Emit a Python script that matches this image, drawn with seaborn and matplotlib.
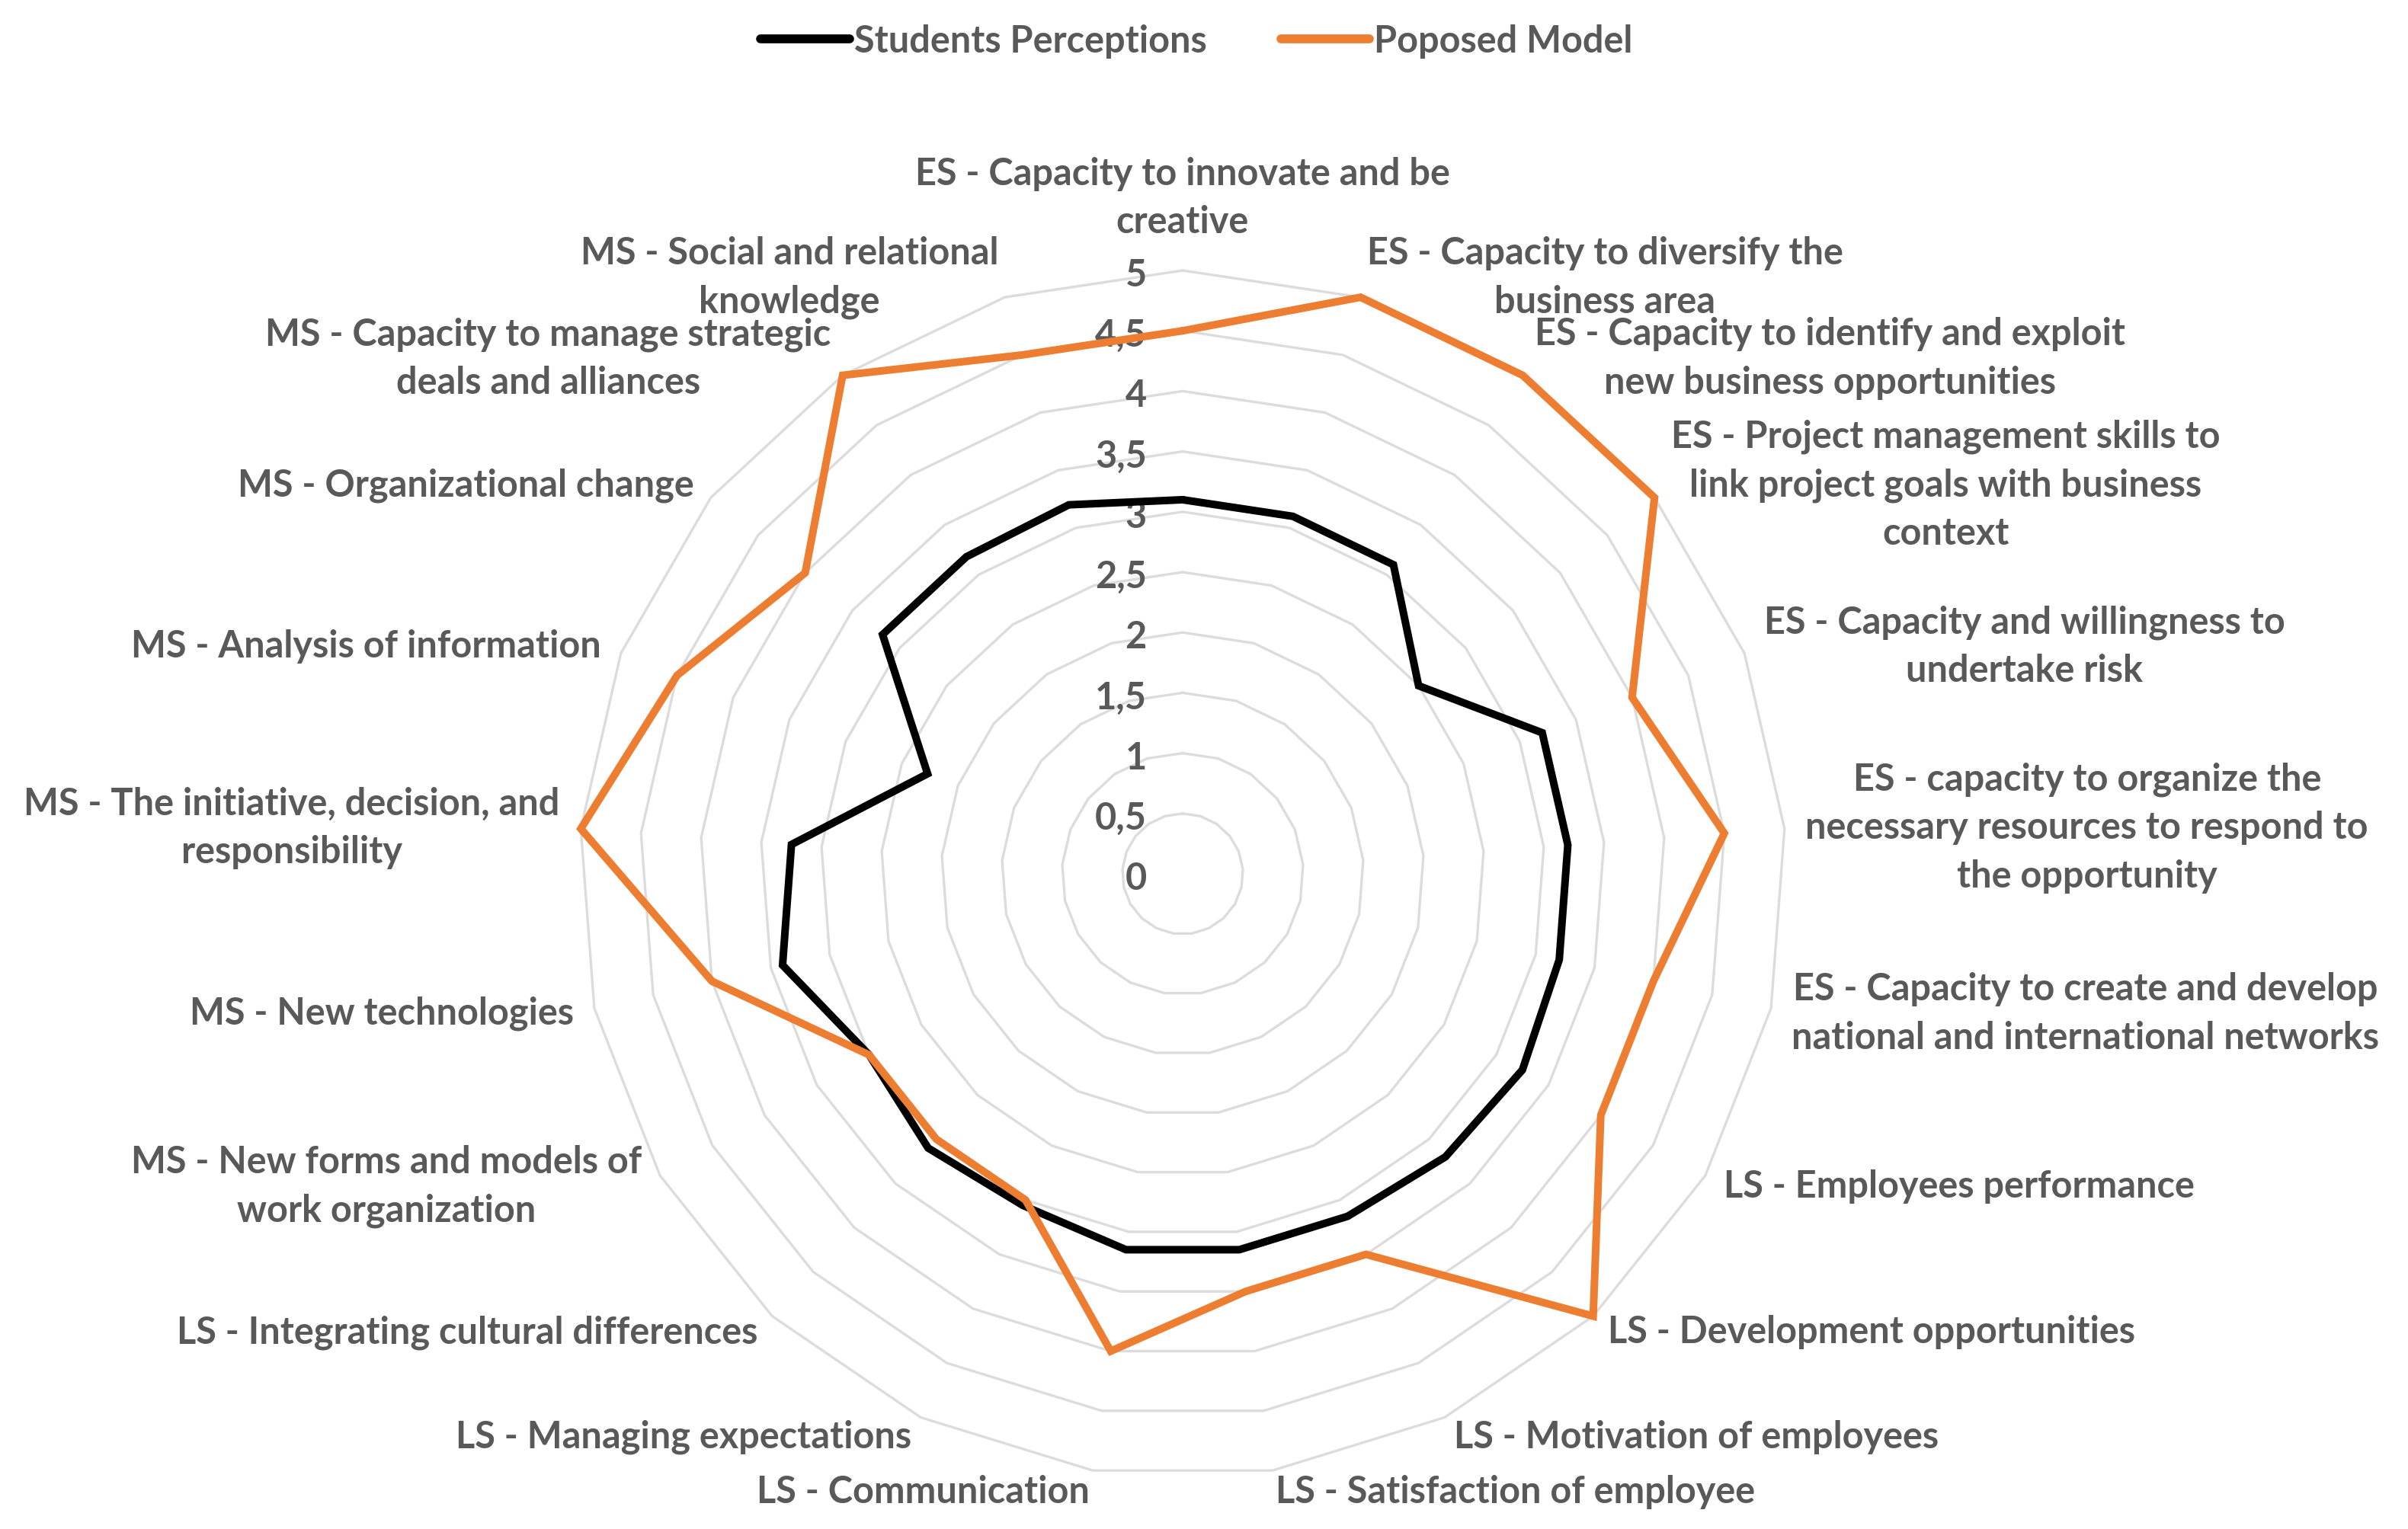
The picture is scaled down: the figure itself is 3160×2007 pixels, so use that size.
import numpy as np
import pandas as pd
import matplotlib
matplotlib.use("Agg")
import matplotlib.pyplot as plt
import seaborn as sns
from matplotlib.lines import Line2D

# ---------------- data ----------------
categories = [
    "ES - Capacity to innovate and be\ncreative",
    "ES - Capacity to diversify the\nbusiness area",
    "ES - Capacity to identify and exploit\nnew business opportunities",
    "ES - Project management skills to\nlink project goals with business\ncontext",
    "ES - Capacity and willingness to\nundertake risk",
    "ES - capacity to organize the\nnecessary resources to respond to\nthe opportunity",
    "ES - Capacity to create and develop\nnational and international networks",
    "LS - Employees performance",
    "LS - Development opportunities",
    "LS - Motivation of employees",
    "LS - Satisfaction of employee",
    "LS - Communication",
    "LS - Managing expectations",
    "LS - Integrating cultural differences",
    "MS - New forms and models of\nwork organization",
    "MS - New technologies",
    "MS - The initiative, decision, and\nresponsibility",
    "MS - Analysis of information",
    "MS - Organizational change",
    "MS - Capacity to manage strategic\ndeals and alliances",
    "MS - Social and relational\nknowledge",
]
students = [3.1, 3.1, 3.1, 2.5, 3.2, 3.2, 3.2, 3.25, 3.2, 3.15, 3.15,
            3.15, 3.05, 3.1, 3.0, 3.4, 3.25, 2.27, 3.18, 3.18, 3.2]
proposed = [4.5, 5, 5, 5, 4, 4.5, 4, 4, 5, 3.5, 3.5,
            4, 3, 3, 3, 4, 5, 4.5, 4, 5, 4.5]
series_names = ["Students Perceptions", "Poposed Model"]
r_ticks = [0, 0.5, 1, 1.5, 2, 2.5, 3, 3.5, 4, 4.5, 5]
r_tick_labels = ["0", "0,5", "1", "1,5", "2", "2,5", "3", "3,5", "4", "4,5", "5"]

# ---------------- style ----------------
sns.set_style("white")
plt.rcParams["font.family"] = ["Lato", "DejaVu Sans"]
TEXT = "#595959"
GRID = "#DCDCDC"
colors = {"Students Perceptions": "#000000", "Poposed Model": "#ED7D31"}
FS = 17.5

n = len(categories)
theta = np.linspace(0, 2 * np.pi, n, endpoint=False)
theta_closed = np.append(theta, 2 * np.pi)

rows = []
for name, vals in zip(series_names, [students, proposed]):
    vals_c = list(vals) + [vals[0]]
    for t, v in zip(theta_closed, vals_c):
        rows.append({"theta": t, "value": v, "series": name})
df = pd.DataFrame(rows)

W, H, DPI = 3160, 2008, 200
fig = plt.figure(figsize=(W / DPI, H / DPI), dpi=DPI)
cx, cy, R = 1552, 1148, 792
ax = fig.add_axes([(cx - R) / W, 1 - (cy + R) / H, 2 * R / W, 2 * R / H],
                  projection="polar")
ax.set_theta_zero_location("N")
ax.set_theta_direction(-1)
ax.set_ylim(0, 5)
ax.grid(False)
ax.spines["polar"].set_visible(False)
ax.set_xticks([])
ax.set_yticks([])
ax.patch.set_alpha(0)

# polygon gridlines
for v in r_ticks[1:]:
    ax.plot(theta_closed, [v] * (n + 1), color=GRID, lw=1.2, zorder=1,
            clip_on=False)

# series
sns.lineplot(data=df, x="theta", y="value", hue="series", palette=colors,
             hue_order=series_names, sort=False, estimator=None, ax=ax,
             lw=3.6, legend=False, zorder=3)
for ln in ax.lines:
    ln.set_clip_on(False)
    ln.set_solid_joinstyle("miter")
ax.set_xlabel("")
ax.set_ylabel("")

# radial tick labels
for v, lbl in zip(r_ticks, r_tick_labels):
    ax.annotate(lbl, xy=(0, v), xytext=(-17, -2), textcoords="offset points",
                ha="right", va="center", fontsize=FS, color=TEXT,
                fontweight="bold", annotation_clip=False, zorder=2)

# category labels
gap = 10
for k, (t, lbl) in enumerate(zip(theta, categories)):
    phi = np.pi / 2 - t
    c, s = np.cos(phi), np.sin(phi)
    if abs(c) < 0.01:
        ha = "center"
    else:
        ha = "left" if c > 0 else "right"
    va = "bottom" if (abs(c) < 0.01 and s > 0) else "center"
    ax.annotate(lbl, xy=(t, 5), xytext=(gap * c, gap * s + (5 if va == "bottom" else 0)),
                textcoords="offset points", ha=ha, va=va, multialignment="center",
                fontsize=FS, color=TEXT, fontweight="bold", linespacing=1.5,
                annotation_clip=False)

# legend
handles = [Line2D([0], [0], color=colors[s], lw=4.2) for s in series_names]
leg = fig.legend(handles, series_names, loc="center", bbox_to_anchor=(0.497, 0.973),
                 ncol=2, frameon=False, handlelength=2.4, handletextpad=0.12,
                 columnspacing=2.0, prop={"size": FS, "weight": "bold"})
for txt in leg.get_texts():
    txt.set_color(TEXT)

fig.savefig("out.png", dpi=DPI, facecolor="white")
